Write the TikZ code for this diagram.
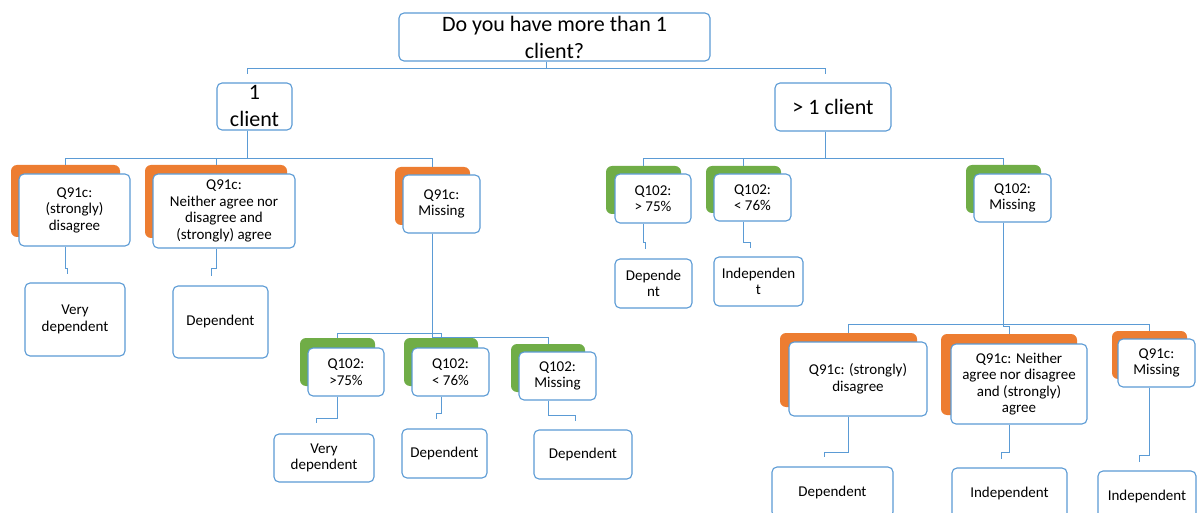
\documentclass[tikz,border=0pt]{standalone}
\usepackage{fontspec}
\setmainfont{Carlito}
\definecolor{bl}{HTML}{5B9BD5}
\definecolor{org}{HTML}{ED7D31}
\definecolor{grn}{HTML}{70AD47}
\tikzset{
  box/.style={draw=bl, fill=white, rounded corners=5pt, line width=1.1pt, align=center, inner sep=0pt, font=\fontsize{15}{16.5}\selectfont},
  big/.style={font=\fontsize{22}{27}\selectfont},
  sz/.style 2 args={minimum width=#1pt, minimum height=#2pt},
  osh/.style={fill=org, rounded corners=6pt, inner sep=0pt},
  gsh/.style={fill=grn, rounded corners=6pt, inner sep=0pt},
  conn/.style={draw=bl, line width=1pt},
}
\begin{document}
\begin{tikzpicture}[x=1pt, y=-1pt]
\clip (0,0) rectangle (1197,513);
\fill[white] (0,0) rectangle (1197,513);

% top levels
\node[box, big, sz={311}{48}] (root) at (554.5,37) {Do you have more than 1\\client?};
\node[box, big, sz={75}{47}] (one) at (254.5,106.5) {1\\client};
\node[box, big, sz={116}{48}] (more) at (833,107) {> 1 client};

% shadows
\node[osh, sz={109}{72}] (As) at (65.5,201) {};
\node[osh, sz={142}{73}] (Bs) at (216,201.5) {};
\node[osh, sz={75}{58}] (Cs) at (432.5,196) {};
\node[gsh, sz={75}{48}] (Ds) at (643.5,190) {};
\node[gsh, sz={75}{47}] (Es) at (743.5,189.5) {};
\node[gsh, sz={75}{48}] (Fs) at (1003.5,189) {};
\node[gsh, sz={75}{48}] (Js) at (337.5,362) {};
\node[gsh, sz={74}{48}] (Ks) at (441,362) {};
\node[gsh, sz={74}{48}] (Ls) at (548,368) {};
\node[osh, sz={137}{74}] (Gs) at (848.5,370) {};
\node[osh, sz={136}{81}] (Hs) at (1009,374.5) {};
\node[osh, sz={75}{48}] (Is) at (1149.5,355) {};

% question boxes
\node[box, sz={111}{72}] (A) at (74.5,210) {Q91c:\\(strongly)\\disagree};
\node[box, sz={142}{74}] (B) at (224,211) {Q91c:\\Neither agree nor\\disagree and\\(strongly) agree};
\node[box, sz={77}{58}] (C) at (441.5,204) {Q91c:\\Missing};
\node[box, sz={76}{49}] (D) at (653,198.5) {Q102:\\> 75\%};
\node[box, sz={77}{47}] (E) at (752.5,197.5) {Q102:\\< 76\%};
\node[box, sz={77}{48}] (F) at (1012.5,198) {Q102:\\Missing};
\node[box, sz={76}{48}] (J) at (346,372) {Q102:\\>75\%};
\node[box, sz={77}{48}] (K) at (450.5,372) {Q102:\\< 76\%};
\node[box, sz={77}{48}] (L) at (557.5,376) {Q102:\\Missing};
\node[box, sz={138}{74}] (G) at (858,379) {Q91c: (strongly)\\disagree};
\node[box, sz={136}{80}] (H) at (1019,384) {Q91c: Neither\\agree nor disagree\\and (strongly)\\agree};
\node[box, sz={77}{48}] (I) at (1156.5,363) {Q91c:\\Missing};

% leaves
\node[box, sz={100}{73}] (Al) at (75,319.5) {Very\\dependent};
\node[box, sz={95}{72}] (Bl) at (220.5,322) {Dependent};
\node[box, sz={77}{49}] (Dl) at (653.5,283.5) {Depende\\nt};
\node[box, sz={89}{49}] (El) at (758.5,281.5) {Independen\\t};
\node[box, sz={100}{48}] (Jl) at (324,458) {Very\\dependent};
\node[box, sz={85}{49}] (Kl) at (444.5,453.5) {Dependent};
\node[box, sz={98}{49}] (Ll) at (583,454.5) {Dependent};
\node[box, sz={121}{50}] (Gl) at (832.5,492) {Dependent};
\node[box, sz={115}{50}] (Hl) at (1009.5,493) {Independent};
\node[box, sz={98}{50}] (Il) at (1147,496) {Independent};

% connectors
\draw[conn] ([xshift=-8.5pt]root.south) -- ++(0,7) -| ([xshift=-7.5pt,yshift=8pt]one.north);
\draw[conn] ([xshift=-8.5pt]root.south) -- ++(0,7) -| ([xshift=-8pt,yshift=8pt]more.north);

\draw[conn] ([xshift=-7.5pt]one.south) -- ++(0,28) -| (As.north);
\draw[conn] ([xshift=-7.5pt]one.south) -- ++(0,28) -| (Bs.north);
\draw[conn] ([xshift=-7.5pt]one.south) -- ++(0,28) -| (Cs.north);

\draw[conn] ([xshift=-8pt]more.south) -- ++(0,27) -| (Ds.north);
\draw[conn] ([xshift=-8pt]more.south) -- ++(0,27) -| (Es.north);
\draw[conn] ([xshift=-8pt]more.south) -- ++(0,27) -| (Fs.north);

\draw[conn] (As.center |- A.south) -- ++(0,22) -| ([xshift=-8pt,yshift=8pt]Al.north);
\draw[conn] (Bs.center |- B.south) -- ++(0,20) -| ([xshift=-9pt,yshift=9pt]Bl.north);

\draw[conn] (Cs.center |- C.south) -- ++(0,100) -| (Js.north);
\draw[conn] (Cs.center |- C.south) -- ++(0,100) -| (Ks.north);
\draw[conn] (Cs.center |- C.south) -- ++(0,104) -| (Ls.north);

\draw[conn] (Ds.center |- D.south) -- ++(0,19) -| ([xshift=-8pt,yshift=9pt]Dl.north);
\draw[conn] (Es.center |- E.south) -- ++(0,21) -| ([xshift=-8pt,yshift=8pt]El.north);

\draw[conn] (Fs.center |- F.south) -- ++(0,102) -| (Gs.north);
\draw[conn] (Fs.center |- F.south) -- ++(0,104) -| (Hs.north);
\draw[conn] (Fs.center |- F.south) -- ++(0,102) -| (Is.north);

\draw[conn] (Js.center |- J.south) -- ++(0,22) -| ([xshift=-8pt,yshift=10pt]Jl.north);
\draw[conn] (Ks.center |- K.south) -- ++(0,17) -| ([xshift=-8pt,yshift=9pt]Kl.north);
\draw[conn] (Ls.center |- L.south) -- ++(0,15) -| ([xshift=-8pt,yshift=8pt]Ll.north);

\draw[conn] (Gs.center |- G.south) -- ++(0,36) -| ([xshift=-8pt,yshift=9pt]Gl.north);
\draw[conn] (Hs.center |- H.south) -- ++(0,28) -| ([xshift=-8pt,yshift=8pt]Hl.north);
\draw[conn] (Is.center |- I.south) -- ++(0,68) -| ([xshift=-8pt,yshift=8pt]Il.north);
\end{tikzpicture}
\end{document}
